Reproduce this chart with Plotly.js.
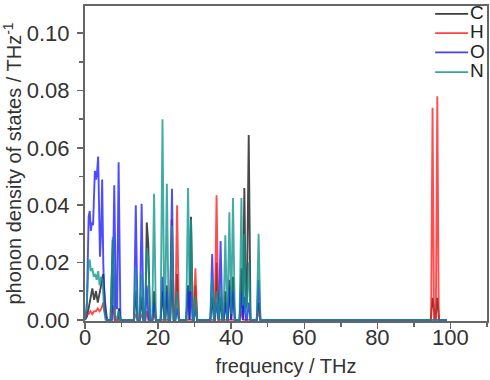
<!DOCTYPE html>
<html>
<head>
<meta charset="utf-8">
<script src="https://cdn.plot.ly/plotly-3.0.1.min.js"></script>
<style>
  html, body { margin: 0; padding: 0; background: #ffffff; }
  #chart { width: 490px; height: 380px; }
</style>
</head>
<body>
<div id="chart"></div>
<script>
// Element labels and colours
const elements = ["C", "H", "O", "N"];
const colors = ["#1a1a1a", "#ff2020", "#2020ff", "#14968f"];

// Partial phonon DOS, [frequency (THz), DOS (1/THz)]
const dosC = [
  [0,0],[0.5,0.001],[1.0,0.004],[1.5,0.008],[2.0,0.011],[2.5,0.007],[3.0,0.010],[3.5,0.006],
  [4.0,0.009],[4.5,0.012],[5.0,0.016],[5.5,0.006],[6.0,0],[7.0,0],[7.6,0.028],[8.2,0],
  [9.0,0],[9.3,0.004],[9.8,0],[13.4,0],[13.9,0.010],[14.4,0],[15.0,0],[15.5,0.008],[16.0,0],
  [16.5,0],[16.9,0.034],[17.3,0.027],[17.8,0],[18.5,0],[18.9,0.010],[19.4,0],[20.7,0],
  [21.2,0.010],[21.7,0],[22.0,0],[22.4,0.012],[22.9,0],[23.3,0],[23.8,0.014],[24.3,0],
  [24.7,0],[25.2,0.016],[25.7,0],[27.7,0],[28.2,0.012],[28.6,0],[29.0,0.036],[29.5,0],
  [29.8,0],[30.2,0.012],[30.7,0],[34.3,0],[34.8,0.008],[35.3,0],[35.6,0],[36.0,0.020],
  [36.5,0],[36.7,0],[37.1,0.008],[37.6,0],[38.0,0],[38.4,0.010],[38.9,0],[39.1,0],
  [39.5,0.014],[40.0,0],[40.5,0.015],[41.0,0],[42.3,0],[42.8,0.018],[43.2,0],[43.6,0.046],
  [44.0,0.004],[44.3,0.006],[44.8,0.0645],[45.3,0],[47.0,0],[47.5,0.006],[48.0,0],
  [94.6,0],[95.1,0.0077],[95.7,0],[95.9,0],[96.4,0.0077],[96.9,0],[99,0]
];
const dosH = [
  [0,0],[0.5,0.002],[1.0,0.002],[1.5,0.003],[2.0,0.002],[2.5,0.003],[3.0,0.003],[3.5,0.004],
  [4.0,0.003],[4.5,0.004],[5.0,0.006],[5.5,0.002],[6.0,0],[7.0,0],[7.6,0.005],[8.2,0],
  [13.4,0],[13.9,0.002],[14.4,0],[15.0,0],[15.5,0.002],[16.0,0],[16.5,0],[16.9,0.003],
  [17.4,0],[18.4,0],[18.9,0.002],[19.4,0],[23.2,0],[23.7,0.035],[24.2,0],[24.7,0],
  [25.2,0.040],[25.7,0],[29.7,0],[30.2,0.018],[30.7,0],[35.5,0],[36.0,0.0435],[36.5,0],
  [42.3,0],[42.8,0.003],[43.3,0],[47.0,0],[47.5,0.003],[48.0,0],
  [94.7,0],[95.1,0.074],[95.5,0],[96.0,0],[96.4,0.078],[96.8,0],[99,0]
];
const dosO = [
  [0,0],[0.5,0.004],[1.0,0.036],[1.3,0.038],[1.6,0.031],[1.9,0.034],[2.2,0.033],[2.5,0.045],
  [2.7,0.052],[3.0,0.049],[3.2,0.050],[3.6,0.057],[3.9,0.040],[4.1,0.022],[4.4,0.030],
  [4.7,0.049],[5.0,0.020],[5.4,0.003],[6.0,0],[7.5,0],[8.0,0.047],[8.5,0.004],[8.8,0.004],
  [9.2,0.055],[9.7,0],[13.4,0],[13.9,0.040],[14.4,0],[15.0,0],[15.5,0.0405],[16.0,0],
  [16.4,0],[16.9,0.012],[17.4,0],[18.4,0],[18.9,0.006],[19.4,0],[20.7,0],[21.2,0.015],
  [21.7,0],[21.9,0],[22.4,0.010],[22.9,0],[23.3,0],[23.8,0.0457],[24.3,0],[24.7,0],
  [25.2,0.004],[25.7,0],[27.7,0],[28.2,0.012],[28.6,0],[29.0,0.010],[29.5,0],[29.8,0],
  [30.2,0.004],[30.7,0],[34.3,0],[34.8,0.023],[35.3,0],[35.5,0],[36.0,0.006],[36.5,0],
  [36.6,0],[37.1,0.0275],[37.6,0],[37.9,0],[38.4,0.006],[38.9,0],[39.0,0],[39.5,0.012],
  [40.0,0],[40.5,0.010],[41.0,0],[42.3,0],[42.8,0.010],[43.2,0],[43.6,0.008],[44.0,0],
  [44.3,0],[44.8,0.006],[45.3,0],[47.0,0],[47.5,0.014],[48.0,0],[99,0]
];
const dosN = [
  [0,0],[0.5,0.006],[1.0,0.020],[1.3,0.021],[1.6,0.017],[2.0,0.018],[2.4,0.015],[2.8,0.016],
  [3.2,0.014],[3.6,0.017],[4.0,0.012],[4.4,0.015],[4.8,0.014],[5.2,0.004],[5.6,0],[7.0,0],
  [7.6,0.029],[8.1,0.002],[8.7,0],[9.2,0.003],[9.7,0],[13.4,0],[13.9,0.018],[14.4,0],
  [15.0,0],[15.5,0.016],[16.0,0],[16.4,0],[16.9,0.025],[17.3,0.022],[17.8,0],[18.4,0],
  [18.9,0.044],[19.4,0],[20.7,0],[21.2,0.070],[21.7,0],[21.9,0],[22.4,0.0475],[22.9,0],
  [23.3,0],[23.8,0.033],[24.3,0],[24.7,0],[25.2,0.010],[25.7,0],[27.7,0],[28.2,0.046],
  [28.6,0.010],[29.0,0.035],[29.5,0],[29.8,0],[30.2,0.008],[30.7,0],[34.3,0],[34.8,0.015],
  [35.3,0],[35.5,0],[36.0,0.010],[36.5,0],[36.6,0],[37.1,0.012],[37.6,0],[37.9,0],
  [38.4,0.0295],[38.9,0],[39.0,0],[39.5,0.0375],[40.0,0.002],[40.5,0.0425],[41.0,0],
  [42.3,0],[42.8,0.0425],[43.2,0.005],[43.6,0.030],[44.0,0.002],[44.3,0.005],[44.8,0.020],
  [45.3,0],[47.0,0],[47.5,0.030],[48.0,0],[99,0]
];

// Axis ticks
const xTicks = [0, 20, 40, 60, 80, 100];
const yTicks = [0.00, 0.02, 0.04, 0.06, 0.08, 0.10];

const series = [dosC, dosH, dosO, dosN];
const traces = series.map((s, i) => ({
  type: "scatter",
  mode: "lines",
  name: elements[i],
  x: s.map(p => p[0]),
  y: s.map(p => p[1]),
  line: { color: colors[i], width: 1.9 },
  opacity: 0.8,
  showlegend: false,
  hoverinfo: "skip"
}));

const regular = "'Liberation Sans', Arial, sans-serif";

// Legend built from shapes + annotations (tight spacing as in the original)
const legY = [0.975, 0.914, 0.853, 0.790];
const shapes = elements.map((e, i) => ({
  type: "line", xref: "paper", yref: "paper",
  x0: 0.871, x1: 0.953, y0: legY[i], y1: legY[i],
  line: { color: colors[i], width: 1.8 }, opacity: 0.85
}));
const annotations = elements.map((e, i) => ({
  xref: "paper", yref: "paper", x: 0.953, y: legY[i] + 0.004,
  xanchor: "left", yanchor: "middle", showarrow: false,
  text: e, font: { family: regular, size: 19, color: "#222" }
}));

const axisCommon = {
  showline: true, mirror: true, linecolor: "#666", linewidth: 2,
  ticks: "outside", ticklen: 6, tickwidth: 1.5, tickcolor: "#666",
  showgrid: false, zeroline: false,
  tickfont: { family: regular, size: 22, color: "#333" }
};

const layout = {
  width: 490, height: 380,
  margin: { l: 85, r: 3, t: 6, b: 59 },
  paper_bgcolor: "#ffffff", plot_bgcolor: "#ffffff",
  xaxis: Object.assign({}, axisCommon, {
    range: [0, 110], tickvals: xTicks, ticklabelstandoff: -10,
    minor: { dtick: 10, ticks: "outside", ticklen: 4, tickcolor: "#666" },
    title: { text: "frequency / THz", font: { family: regular, size: 20, color: "#333" }, standoff: 10 }
  }),
  yaxis: Object.assign({}, axisCommon, {
    range: [-0.0004, 0.1095], tickvals: yTicks, tickformat: ".2f", ticklabelstandoff: 3,
    minor: { dtick: 0.01, ticks: "outside", ticklen: 4, tickcolor: "#666" },
    title: { text: "phonon density of states / THz<sup>-1</sup>", font: { family: regular, size: 20, color: "#333" }, standoff: 4 }
  }),
  shapes: shapes,
  annotations: annotations,
  showlegend: false
};

Plotly.newPlot("chart", traces, layout, { displayModeBar: false, staticPlot: true });
</script>
</body>
</html>
